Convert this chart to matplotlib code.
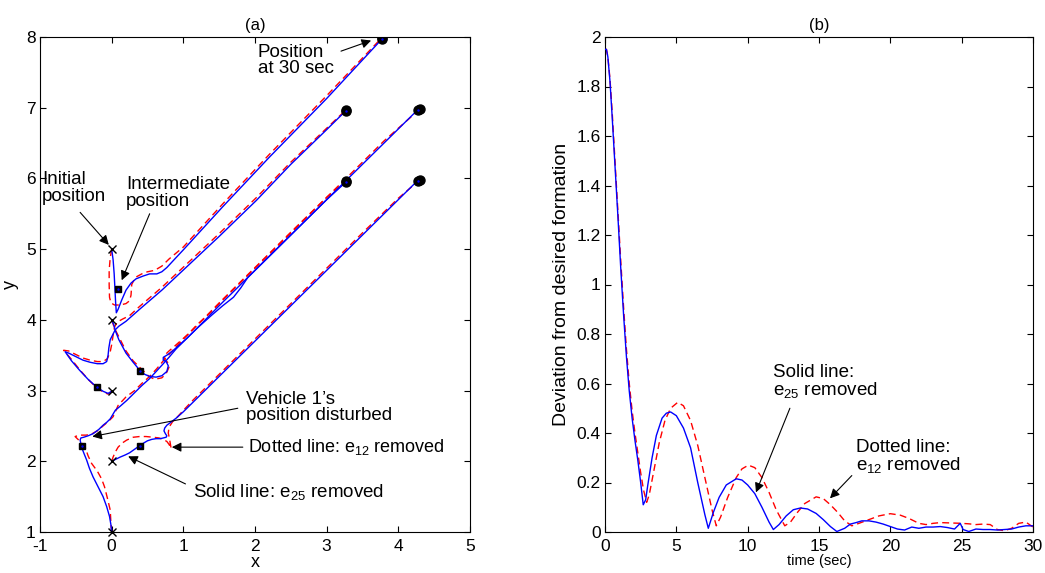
import matplotlib
matplotlib.use("Agg")
import matplotlib.pyplot as plt

plt.rcParams['font.family'] = ['Liberation Sans', 'DejaVu Sans']
plt.rcParams['mathtext.default'] = 'regular'
plt.rcParams['axes.unicode_minus'] = False

# ---------------- panel (a) data: trajectories ----------------
# vehicle starting at (0,5)
v1_blue_x = [0, 0.02, 0.035, 0.045, 0.055, 0.065, 0.09, 0.14, 0.2, 0.27, 0.34, 0.44, 0.53, 0.63, 0.7, 0.77, 0.88, 1.0, 1.55, 2.2, 3.0, 3.77]
v1_blue_y = [5, 4.85, 4.65, 4.45, 4.25, 4.1, 4.15, 4.28, 4.42, 4.52, 4.58, 4.62, 4.65, 4.65, 4.68, 4.74, 4.86, 4.99, 5.6, 6.3, 7.13, 7.97]
v1_red_x = [0, -0.02, -0.035, -0.035, -0.03, -0.01, 0.04, 0.12, 0.2, 0.25, 0.27, 0.28, 0.33, 0.42, 0.5, 0.6, 0.7, 0.8, 1.0, 1.55, 2.2, 3.0, 3.77]
v1_red_y = [5, 4.88, 4.7, 4.5, 4.32, 4.24, 4.21, 4.21, 4.23, 4.27, 4.35, 4.5, 4.6, 4.65, 4.68, 4.7, 4.76, 4.86, 5.03, 5.64, 6.34, 7.17, 7.99]

# vehicle starting at (0,3)
v3_blue_x = [0, -0.05, -0.12, -0.21, -0.33, -0.45, -0.56, -0.65, -0.6, -0.5, -0.4, -0.3, -0.2, -0.12, -0.07, -0.05, -0.04, -0.02, 0.02, 0.05, 0.1, 0.2, 0.39, 0.7, 1.1, 1.5, 2.02, 2.5, 3.0, 3.27]
v3_blue_y = [2.99, 2.96, 2.99, 3.05, 3.16, 3.29, 3.42, 3.55, 3.53, 3.48, 3.43, 3.4, 3.38, 3.38, 3.41, 3.5, 3.6, 3.72, 3.8, 3.86, 3.91, 3.98, 4.15, 4.42, 4.8, 5.18, 5.69, 6.2, 6.69, 6.96]
v3_red_x = [0, -0.05, -0.12, -0.21, -0.33, -0.45, -0.56, -0.67, -0.6, -0.5, -0.4, -0.3, -0.2, -0.12, -0.06, -0.02, 0.0, 0.02, 0.04, 0.08, 0.15, 0.25, 0.39, 0.7, 1.1, 1.5, 2.02, 2.5, 3.0, 3.27]
v3_red_y = [2.99, 2.95, 2.98, 3.04, 3.16, 3.3, 3.44, 3.57, 3.56, 3.51, 3.46, 3.43, 3.41, 3.41, 3.45, 3.55, 3.65, 3.78, 3.9, 3.97, 4.01, 4.06, 4.19, 4.46, 4.84, 5.22, 5.73, 6.23, 6.71, 6.97]

# vehicle starting at (0,4)
v2_blue_x = [0, 0.03, 0.05, 0.1, 0.2, 0.3, 0.39, 0.46, 0.53, 0.62, 0.7, 0.77, 0.79, 0.76, 0.72, 0.72, 0.77, 0.85, 0.95, 1.05, 1.19, 1.4, 1.55, 1.7, 1.8, 1.9, 2.1, 2.5, 3.0, 3.27]
v2_blue_y = [4.0, 3.93, 3.85, 3.72, 3.53, 3.4, 3.29, 3.23, 3.2, 3.19, 3.21, 3.27, 3.35, 3.41, 3.43, 3.47, 3.5, 3.56, 3.65, 3.74, 3.88, 4.07, 4.2, 4.32, 4.45, 4.6, 4.8, 5.2, 5.7, 5.95]
v2_red_x = [0, 0.04, 0.12, 0.2, 0.3, 0.42, 0.52, 0.6, 0.7, 0.76, 0.8, 0.78, 0.74, 0.74, 0.8, 0.88, 0.98, 1.08, 1.19, 1.4, 1.55, 1.7, 1.9, 2.1, 2.5, 3.0, 3.27]
v2_red_y = [4.0, 3.88, 3.72, 3.56, 3.42, 3.3, 3.2, 3.16, 3.18, 3.24, 3.33, 3.4, 3.44, 3.5, 3.56, 3.63, 3.72, 3.81, 3.93, 4.12, 4.28, 4.43, 4.63, 4.83, 5.23, 5.73, 5.97]

# vehicle starting at (0,1)
v5_blue_x = [0, -0.01, -0.03, -0.07, -0.12, -0.19, -0.26, -0.31, -0.35, -0.39, -0.42, -0.44, -0.43, -0.39, -0.33, -0.26, -0.18, -0.12, -0.07, -0.02, 0.05, 0.12, 0.21, 0.32, 0.42, 0.53, 0.63, 0.72, 0.8, 0.9, 1.05, 1.19, 1.5, 1.9, 2.5, 3.27, 3.8, 4.27]
v5_blue_y = [1.0, 1.1, 1.22, 1.36, 1.5, 1.64, 1.78, 1.9, 2.02, 2.12, 2.2, 2.3, 2.33, 2.34, 2.36, 2.39, 2.45, 2.51, 2.55, 2.6, 2.72, 2.78, 2.86, 2.97, 3.07, 3.17, 3.28, 3.38, 3.47, 3.59, 3.74, 3.88, 4.2, 4.6, 5.2, 5.97, 6.5, 6.97]
v5_red_x = [0, -0.01, -0.02, -0.06, -0.1, -0.14, -0.2, -0.28, -0.33, -0.37, -0.44, -0.51, -0.45, -0.36, -0.29, -0.2, -0.12, -0.05, 0.02, 0.09, 0.2, 0.32, 0.42, 0.53, 0.63, 0.72, 0.8, 0.9, 1.05, 1.19, 1.5, 1.9, 2.5, 3.27, 3.8, 4.3]
v5_red_y = [1.0, 1.12, 1.31, 1.48, 1.64, 1.75, 1.86, 1.97, 2.08, 2.2, 2.28, 2.35, 2.37, 2.37, 2.38, 2.43, 2.5, 2.56, 2.63, 2.79, 2.91, 3.0, 3.1, 3.2, 3.31, 3.42, 3.51, 3.62, 3.78, 3.92, 4.24, 4.64, 5.24, 6.0, 6.53, 6.98]

# vehicle starting at (0,2)
v4_blue_x = [0, 0.06, 0.12, 0.19, 0.25, 0.32, 0.39, 0.45, 0.5, 0.56, 0.62, 0.68, 0.72, 0.76, 0.77, 0.75, 0.73, 0.74, 0.77, 0.81, 0.9, 1.0, 1.14, 1.5, 2.0, 2.5, 3.0, 3.5, 4.0, 4.27]
v4_blue_y = [2.0, 2.03, 2.06, 2.09, 2.12, 2.17, 2.22, 2.26, 2.29, 2.31, 2.32, 2.32, 2.33, 2.34, 2.36, 2.39, 2.43, 2.47, 2.51, 2.54, 2.61, 2.7, 2.84, 3.2, 3.7, 4.2, 4.7, 5.2, 5.7, 5.97]
v4_red_x = [0, 0.02, 0.05, 0.09, 0.15, 0.21, 0.3, 0.39, 0.48, 0.58, 0.66, 0.72, 0.77, 0.8, 0.82, 0.83, 0.81, 0.79, 0.8, 0.85, 0.92, 1.0, 1.14, 1.5, 2.0, 2.5, 3.0, 3.5, 4.0, 4.3]
v4_red_y = [2.0, 2.06, 2.13, 2.2, 2.26, 2.3, 2.34, 2.35, 2.35, 2.34, 2.33, 2.31, 2.28, 2.24, 2.2, 2.18, 2.3, 2.4, 2.48, 2.56, 2.63, 2.72, 2.87, 3.23, 3.73, 4.23, 4.73, 5.23, 5.72, 5.98]

init_x = [0, 0, 0, 0, 0]
init_y = [1, 2, 3, 4, 5]
inter_x = [0.09, 0.39, -0.21, -0.42, 0.39]
inter_y = [4.44, 3.28, 3.05, 2.21, 2.22]

# ---------------- panel (b) data: deviation ----------------
t_blue = [0, 0.1, 0.2, 0.35, 0.5, 0.7, 0.9, 1.1, 1.3, 1.5, 1.7, 1.9, 2.1, 2.3, 2.5, 2.68, 2.85, 3.0, 3.3, 3.6, 4.0, 4.3, 4.6, 5.0, 5.5, 6.0, 6.5, 7.0, 7.24, 7.6, 8.0, 8.5, 9.2, 9.6, 10.0, 10.5, 11.0, 11.5, 11.8, 12.2, 12.7, 13.2, 13.7, 14.2, 14.8, 15.3, 15.8, 16.25, 16.8, 17.2, 17.6, 18.0, 18.5, 19.0, 19.5, 20.0, 20.5, 21.0, 21.5, 22.0, 22.5, 23.0, 23.5, 24.0, 24.5, 24.9, 25.1, 25.5, 26.0, 26.5, 27.0, 27.5, 28.0, 28.5, 29.0, 29.5, 30.0]
dev_blue = [1.95, 1.95, 1.92, 1.82, 1.68, 1.48, 1.28, 1.07, 0.88, 0.71, 0.57, 0.46, 0.37, 0.29, 0.2, 0.11, 0.13, 0.19, 0.3, 0.39, 0.46, 0.48, 0.485, 0.47, 0.42, 0.34, 0.2, 0.07, 0.015, 0.08, 0.14, 0.19, 0.215, 0.21, 0.19, 0.155, 0.1, 0.04, 0.01, 0.03, 0.065, 0.09, 0.097, 0.093, 0.075, 0.05, 0.022, 0.002, 0.015, 0.032, 0.038, 0.045, 0.045, 0.04, 0.032, 0.022, 0.012, 0.008, 0.02, 0.015, 0.02, 0.02, 0.022, 0.018, 0.012, 0.035, 0.01, 0.002, 0.012, 0.01, 0.01, 0.008, 0.01, 0.012, 0.02, 0.025, 0.025]
t_red = [0, 0.1, 0.2, 0.35, 0.5, 0.7, 0.9, 1.1, 1.3, 1.5, 1.7, 1.9, 2.1, 2.3, 2.5, 2.7, 2.92, 3.1, 3.4, 3.8, 4.2, 4.6, 5.1, 5.5, 6.0, 6.5, 7.0, 7.5, 7.8, 8.1, 8.6, 9.2, 9.6, 10.05, 10.5, 11.0, 11.5, 12.0, 12.6, 13.0, 13.5, 14.0, 14.8, 15.3, 15.8, 16.3, 16.8, 17.3, 17.8, 18.5, 19.2, 20.0, 20.7, 21.3, 22.0, 22.5, 23.0, 23.5, 24.0, 24.5, 25.0, 25.5, 26.0, 26.5, 27.0, 27.5, 28.0, 28.5, 29.0, 29.5, 30.0]
dev_red = [1.95, 1.95, 1.92, 1.83, 1.7, 1.5, 1.3, 1.1, 0.91, 0.74, 0.6, 0.49, 0.4, 0.32, 0.24, 0.17, 0.12, 0.15, 0.24, 0.36, 0.45, 0.5, 0.524, 0.51, 0.45, 0.35, 0.22, 0.09, 0.025, 0.06, 0.14, 0.22, 0.255, 0.27, 0.26, 0.22, 0.16, 0.09, 0.025, 0.04, 0.08, 0.115, 0.142, 0.135, 0.11, 0.08, 0.045, 0.025, 0.035, 0.05, 0.065, 0.074, 0.068, 0.055, 0.035, 0.03, 0.035, 0.038, 0.037, 0.036, 0.035, 0.033, 0.03, 0.032, 0.03, 0.01, 0.005, 0.015, 0.035, 0.04, 0.02]

xticks_a = [-1, 0, 1, 2, 3, 4, 5]
yticks_a = [1, 2, 3, 4, 5, 6, 7, 8]
xticks_b = [0, 5, 10, 15, 20, 25, 30]
yticks_b = [0, 0.2, 0.4, 0.6, 0.8, 1, 1.2, 1.4, 1.6, 1.8, 2]
yticklabels_b = ['0', '0.2', '0.4', '0.6', '0.8', '1', '1.2', '1.4', '1.6', '1.8', '2']

BLUE = (0, 0, 1)
RED = (1, 0, 0)
TICK_FS = 12.5
ANN_FS = 13.5

fig = plt.figure(figsize=(10.45, 5.73), dpi=100)
axa = fig.add_axes([40 / 1045, 41 / 573, 430 / 1045, 495 / 573])
axb = fig.add_axes([605 / 1045, 41 / 573, 428 / 1045, 495 / 573])

blues = [(v1_blue_x, v1_blue_y), (v2_blue_x, v2_blue_y), (v3_blue_x, v3_blue_y), (v4_blue_x, v4_blue_y), (v5_blue_x, v5_blue_y)]
reds = [(v1_red_x, v1_red_y), (v2_red_x, v2_red_y), (v3_red_x, v3_red_y), (v4_red_x, v4_red_y), (v5_red_x, v5_red_y)]

for (rx, ry) in reds:
    axa.plot(rx, ry, color=RED, lw=1.0, ls=(0, (5, 3)), zorder=2)
for (bx, by) in blues:
    axa.plot(bx, by, color=BLUE, lw=1.0, zorder=3)
# final positions
for (rx, ry) in reds:
    axa.plot(rx[-1], ry[-1], 'o', color='k', ms=6.5, zorder=4)
for (bx, by) in blues:
    axa.plot(bx[-1], by[-1], 'o', color='k', ms=6.5, zorder=4)
    axa.plot(bx[-1], by[-1], '.', color=BLUE, ms=1.5, zorder=5)
axa.plot(init_x, init_y, 'x', color='k', ms=5.5, mew=1.0, zorder=5, clip_on=False)
axa.plot(inter_x, inter_y, 's', color='k', ms=5, zorder=5)
axa.plot(inter_x, inter_y, '.', color=BLUE, ms=1.5, zorder=6)

axa.set_xlim(-1, 5)
axa.set_ylim(1, 8)
axa.set_xticks(xticks_a)
axa.set_yticks(yticks_a)
axa.set_xlabel('x', fontsize=13, labelpad=0)
axa.set_ylabel('y', fontsize=13, labelpad=5)
axa.set_title('(a)', fontsize=12, pad=5)

arrow_kw = dict(arrowstyle='-|>', color='k', lw=0.8, mutation_scale=14, shrinkA=0, shrinkB=0)
LS = 0.95
axa.text(2.04, 7.9, 'Position\nat 30 sec', fontsize=ANN_FS, ha='left', va='top', linespacing=LS)
axa.annotate('', xy=(3.62, 7.95), xytext=(3.2, 7.8), arrowprops=arrow_kw)
axa.text(-0.97, 6.1, 'Initial\nposition', fontsize=ANN_FS, ha='left', va='top', linespacing=LS)
axa.annotate('', xy=(-0.04, 5.06), xytext=(-0.44, 5.52), arrowprops=arrow_kw)
axa.text(0.2, 6.03, 'Intermediate\nposition', fontsize=ANN_FS, ha='left', va='top', linespacing=LS)
axa.annotate('', xy=(0.14, 4.56), xytext=(0.53, 5.5), arrowprops=arrow_kw)
axa.text(1.87, 3.0, 'Vehicle 1\u2019s\nposition disturbed', fontsize=ANN_FS, ha='left', va='top', linespacing=LS)
axa.annotate('', xy=(-0.27, 2.35), xytext=(1.76, 2.75), arrowprops=arrow_kw)
axa.text(1.9, 2.2, 'Dotted line: e$_{12}$ removed', fontsize=13, ha='left', va='center')
axa.annotate('', xy=(0.84, 2.2), xytext=(1.83, 2.2), arrowprops=arrow_kw)
axa.text(1.13, 1.57, 'Solid line: e$_{25}$ removed', fontsize=ANN_FS, ha='left', va='center')
axa.annotate('', xy=(0.23, 2.07), xytext=(1.03, 1.68), arrowprops=arrow_kw)

axb.plot(t_red, dev_red, color=RED, lw=1.0, ls=(0, (5, 3)), zorder=2)
axb.plot(t_blue, dev_blue, color=BLUE, lw=1.0, zorder=3)
axb.set_xlim(0, 30)
axb.set_ylim(0, 2)
axb.set_xticks(xticks_b)
axb.set_yticks(yticks_b)
axb.set_yticklabels(yticklabels_b)
axb.set_xlabel('time (sec)', fontsize=10.5, labelpad=0)
axb.set_ylabel('Deviation from desired formation', fontsize=14, labelpad=5)
axb.set_title('(b)', fontsize=12, pad=5)
axb.text(11.77, 0.68, 'Solid line:\ne$_{25}$ removed', fontsize=ANN_FS, ha='left', va='top', linespacing=LS)
axb.annotate('', xy=(10.58, 0.16), xytext=(12.96, 0.5), arrowprops=arrow_kw)
axb.text(17.59, 0.375, 'Dotted line:\ne$_{12}$ removed', fontsize=ANN_FS, ha='left', va='top', linespacing=LS)
axb.annotate('', xy=(15.77, 0.136), xytext=(17.3, 0.228), arrowprops=arrow_kw)

for ax in (axa, axb):
    ax.tick_params(direction='in', length=4, width=0.8, top=True, right=True, labelsize=TICK_FS, pad=3)
    ax.tick_params(axis='x', pad=5)
    for s in ax.spines.values():
        s.set_linewidth(0.8)

fig.savefig('out.png', dpi=100)
